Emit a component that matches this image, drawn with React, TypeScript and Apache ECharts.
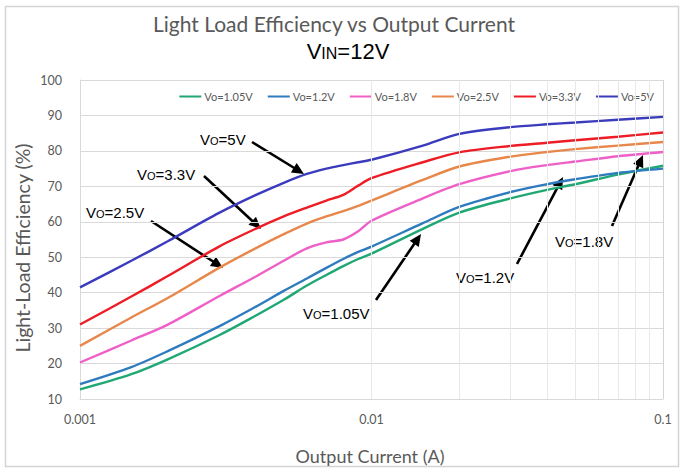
import React, { useEffect, useRef } from "react";
import * as echarts from "echarts";

// ---- data ----
const currents = [0.001, 0.0015, 0.002, 0.003, 0.004, 0.005, 0.006, 0.007, 0.008, 0.009, 0.01, 0.015, 0.02, 0.03, 0.04, 0.05, 0.07, 0.1];
const seriesNames = ["Vo=1.05V", "Vo=1.2V", "Vo=1.8V", "Vo=2.5V", "Vo=3.3V", "Vo=5V"];
const eff105 = [12.7, 17, 21.2, 28, 33.5, 38, 42, 45, 47.5, 49.5, 51, 58, 62.6, 66.6, 69, 70.6, 73.3, 75.8];
const eff12 = [14.2, 19, 23.5, 30.5, 36, 40.5, 44, 47, 49.5, 51.5, 53, 59.6, 64.2, 68.4, 70.6, 72, 73.8, 75];
const eff18 = [20.3, 26.5, 31, 39, 44.5, 49, 52.5, 54.2, 55, 57.3, 60.3, 66.6, 70.6, 74.3, 76, 77, 78.5, 79.7];
const eff25 = [25, 33, 38.5, 47, 52.5, 56.5, 59.5, 61.5, 63, 64.5, 66, 71.8, 75.6, 78.4, 79.7, 80.5, 81.5, 82.5];
const eff33 = [31, 38.9, 44.7, 53, 58, 61.5, 64, 66, 67.6, 70.2, 72.3, 76.8, 79.6, 81.4, 82.3, 83, 84, 85.2];
const eff5 = [41.5, 49, 54.5, 62.5, 67.5, 71, 73.5, 75, 76, 76.8, 77.5, 81.5, 84.8, 86.7, 87.5, 88, 88.8, 89.6];
const seriesValues = [eff105, eff12, eff18, eff25, eff33, eff5];
const seriesColors = ["#1fa874", "#2f7bbf", "#ee5fc8", "#e8874a", "#ee1c25", "#3b3bbd"];

const xTickValues = [0.001, 0.01, 0.1];
const xTickLabels = ["0.001", "0.01", "0.1"];
const minorCurrents = [0.002, 0.003, 0.004, 0.005, 0.006, 0.007, 0.008, 0.009, 0.02, 0.03, 0.04, 0.05, 0.06, 0.07, 0.08, 0.09];
const yMin = 10;
const yMax = 100;
const yStep = 10;

const annotations = [
  { v: "5V", tx: 200, ty: 139, ax: 252, ay: 142, bx: 304, by: 174 },
  { v: "3.3V", tx: 137, ty: 174, ax: 204, ay: 176, bx: 261, by: 229 },
  { v: "2.5V", tx: 86, ty: 212, ax: 151, ay: 221, bx: 223, by: 268 },
  { v: "1.05V", tx: 303, ty: 313, ax: 376, ay: 300, bx: 421, by: 234 },
  { v: "1.2V", tx: 456, ty: 277, ax: 517, ay: 264, bx: 563, by: 177 },
  { v: "1.8V", tx: 555, ty: 241, ax: 612, ay: 226, bx: 643, by: 155 },
];

function arrow(x1: number, y1: number, x2: number, y2: number) {
  const dx = x2 - x1;
  const dy = y2 - y1;
  const len = Math.hypot(dx, dy);
  const ux = dx / len;
  const uy = dy / len;
  const hl = 12;
  const hw = 5.5;
  const bx = x2 - ux * hl;
  const by = y2 - uy * hl;
  return [
    { type: "line", shape: { x1, y1, x2: bx + ux * 2, y2: by + uy * 2 }, style: { stroke: "#000", lineWidth: 2.6 } },
    {
      type: "polygon",
      shape: { points: [[x2, y2], [bx - uy * hw, by + ux * hw], [bx + uy * hw, by - ux * hw]] },
      style: { fill: "#000" },
    },
  ];
}

export default function App() {
  const ref = useRef<HTMLDivElement>(null);
  useEffect(() => {
    if (!ref.current) return;
    const chart = echarts.init(ref.current, undefined, { renderer: "svg" });
    const gray = "#595959";
    const font = "Lato, 'Open Sans', sans-serif";
    const annFont = "'Liberation Sans', Arial, sans-serif";

    const graphics: any[] = [
      {
        type: "rect",
        shape: { x: 5.5, y: 6.5, width: 673, height: 460 },
        style: { fill: "none", stroke: "#d4d4d4", lineWidth: 1.5 },
        silent: true,
      },
      {
        type: "text",
        x: 334,
        y: 23,
        style: { text: "Light Load Efficiency vs Output Current", fontSize: 21, fontFamily: font, fill: gray, align: "center", verticalAlign: "middle" },
      },
      {
        type: "text",
        x: 348,
        y: 51,
        style: {
          text: "{a|V}{b|IN}{a|=12V}",
          align: "center",
          verticalAlign: "middle",
          rich: {
            a: { fontSize: 22, fontFamily: annFont, fill: "#000" },
            b: { fontSize: 16, fontFamily: annFont, fill: "#000", padding: [5, 0, 0, 0] },
          },
        },
      },
      {
        type: "text",
        x: 22,
        y: 248,
        rotation: Math.PI / 2,
        style: { text: "Light-Load Efficiency (%)", fontSize: 19.5, fontFamily: font, fill: gray, align: "center", verticalAlign: "middle" },
      },
      {
        type: "text",
        x: 370,
        y: 456,
        style: { text: "Output Current (A)", fontSize: 18, fontFamily: font, fill: gray, align: "center", verticalAlign: "middle" },
      },
    ];
    annotations.forEach((a) => {
      graphics.push({
        type: "text",
        x: a.tx,
        y: a.ty,
        style: {
          text: "{a|V}{b|O}{a|=" + a.v + "}",
          align: "left",
          verticalAlign: "middle",
          rich: {
            a: { fontSize: 15, fontFamily: annFont, fill: "#000" },
            b: { fontSize: 11, fontFamily: annFont, fill: "#000", padding: [3, 0, 0, 0] },
          },
        },
      });
      graphics.push(...arrow(a.ax, a.ay, a.bx, a.by));
    });

    const lineSeries = seriesNames.map((name, i) => ({
      name,
      type: "line",
      data: currents.map((c, j) => [c, seriesValues[i][j]]),
      showSymbol: false,
      smooth: 0.3,
      z: 3,
      lineStyle: { color: seriesColors[i], width: 2.4 },
      itemStyle: { color: seriesColors[i] },
    }));

    chart.setOption({
      animation: false,
      backgroundColor: "#fff",
      grid: { left: 80, right: 19, top: 80, bottom: 71 },
      legend: {
        data: seriesNames,
        right: 24,
        top: 88,
        itemWidth: 22,
        itemHeight: 2,
        itemGap: 15,
        backgroundColor: "#fff",
        padding: [3, 4],
        icon: "rect",
        textStyle: { fontSize: 11, fontFamily: font, color: gray, padding: [0, 0, 0, -2] },
      },
      xAxis: {
        type: "log",
        logBase: 10,
        min: xTickValues[0],
        max: xTickValues[xTickValues.length - 1],
        axisLine: { show: true, lineStyle: { color: "#d9d9d9" } },
        axisTick: { show: false },
        splitLine: { show: true, lineStyle: { color: "#d4d4d4" } },
        axisLabel: {
          fontSize: 12.5,
          fontFamily: font,
          color: gray,
          margin: 14,
          formatter: (v: number) => {
            const idx = xTickValues.findIndex((t) => Math.abs(Math.log10(t) - Math.log10(v)) < 1e-6);
            return idx >= 0 ? xTickLabels[idx] : "";
          },
        },
      },
      yAxis: {
        type: "value",
        min: yMin,
        max: yMax,
        interval: yStep,
        axisLine: { show: true, lineStyle: { color: "#d9d9d9" } },
        axisTick: { show: false },
        splitLine: { show: true, lineStyle: { color: "#d9d9d9" } },
        axisLabel: { fontSize: 12.5, fontFamily: font, color: gray, margin: 18 },
      },
      series: [
        {
          name: "minor",
          type: "line",
          data: [],
          silent: true,
          markLine: {
            silent: true,
            symbol: "none",
            label: { show: false },
            lineStyle: { color: "#e8e8e8", width: 1, type: "solid" },
            data: minorCurrents.map((c) => ({ xAxis: c })),
          },
        },
        ...lineSeries,
      ],
      graphic: graphics,
    });
    return () => chart.dispose();
  }, []);
  return <div ref={ref} style={{ position: "absolute", left: 0, top: 0, width: 682, height: 470 }} />;
}
